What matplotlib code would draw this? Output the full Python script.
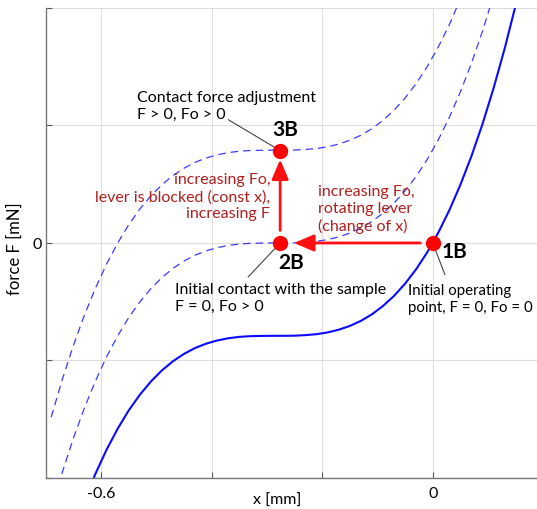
import numpy as np
import matplotlib
matplotlib.use("Agg")
from matplotlib import pyplot as plt

plt.rcParams['font.family'] = ['Lato', 'DejaVu Sans']

# curves (x in mm, F in mN)
x_mm = [-0.69, -0.67, -0.65, -0.63, -0.61, -0.59, -0.57, -0.55, -0.53, -0.51,
        -0.49, -0.47, -0.45, -0.43, -0.41, -0.39, -0.37, -0.35, -0.33, -0.31,
        -0.29, -0.27, -0.25, -0.23, -0.21, -0.19, -0.17, -0.15, -0.13, -0.11,
        -0.09, -0.07, -0.05, -0.03, -0.01, 0.01, 0.03, 0.05, 0.07, 0.09,
        0.11, 0.13, 0.15, 0.17, 0.19]
F_solid = [-3.062, -2.742, -2.453, -2.194, -1.964, -1.760, -1.582, -1.426, -1.293, -1.180,
           -1.085, -1.007, -0.944, -0.894, -0.857, -0.830, -0.811, -0.799, -0.793, -0.791,
           -0.790, -0.790, -0.789, -0.784, -0.776, -0.761, -0.738, -0.706, -0.663, -0.607,
           -0.536, -0.450, -0.346, -0.223, -0.079, 0.088, 0.279, 0.496, 0.740, 1.013,
           1.318, 1.654, 2.025, 2.432, 2.875]
F_dash_mid = [-2.272, -1.952, -1.663, -1.404, -1.174, -0.970, -0.792, -0.636, -0.503, -0.390,
              -0.295, -0.217, -0.154, -0.104, -0.067, -0.040, -0.021, -0.009, -0.003, -0.001,
              0.000, 0.000, 0.001, 0.006, 0.014, 0.029, 0.052, 0.084, 0.127, 0.183,
              0.254, 0.340, 0.444, 0.567, 0.711, 0.878, 1.069, 1.286, 1.530, 1.803,
              2.108, 2.444, 2.815, 3.222, 3.665]
F_dash_up = [-1.482, -1.162, -0.873, -0.614, -0.384, -0.180, -0.002, 0.154, 0.287, 0.400,
             0.495, 0.573, 0.636, 0.686, 0.723, 0.750, 0.769, 0.781, 0.787, 0.789,
             0.790, 0.790, 0.791, 0.796, 0.804, 0.819, 0.842, 0.874, 0.917, 0.973,
             1.044, 1.130, 1.234, 1.357, 1.501, 1.668, 1.859, 2.076, 2.320, 2.593,
             2.898, 3.234, 3.605, 4.012, 4.455]

# operating points
pt_names = ['1B', '2B', '3B']
pt_x = [0.0, -0.276, -0.276]
pt_F = [0.0, 0.0, 0.786]

x_ticks = [-0.6, -0.4, -0.2, 0.0]
x_ticklabels = ['-0.6', '', '', '0']
y_ticks = [-2, -1, 0, 1, 2]
y_ticklabels = ['', '', '0', '', '']

fig = plt.figure(figsize=(5.37, 5.10), dpi=100)
ax = fig.add_axes([0.0851, 0.0608, 0.9149, 0.9216])

ax.plot(x_mm, F_dash_up, color='#3a3aff', lw=0.9, dashes=(6, 4))
ax.plot(x_mm, F_dash_mid, color='#3a3aff', lw=0.9, dashes=(6, 4))
ax.plot(x_mm, F_solid, color='#0a0aff', lw=1.5)

ax.set_xlim(-0.7, 0.1885)
ax.set_ylim(-2, 2)
ax.set_xticks(x_ticks)
ax.set_xticklabels(x_ticklabels)
ax.set_yticks(y_ticks)
ax.set_yticklabels(y_ticklabels)
ax.grid(True, color='#dddddd', lw=0.8)
ax.set_axisbelow(True)
for s in ['top', 'right']:
    ax.spines[s].set_visible(False)
for s in ['left', 'bottom']:
    ax.spines[s].set_color('#777777')
    ax.spines[s].set_linewidth(1.0)
ax.tick_params(direction='in', length=4, color='#555555', labelsize=11.5)
ax.tick_params(axis='x', pad=6)
ax.tick_params(axis='y', pad=3)

ax.set_xlabel('x [mm]', fontsize=11.5)
ax.xaxis.set_label_coords((277 - 45.7) / 491.3, -0.031)
ax.set_ylabel('force F [mN]', fontsize=12)
ax.yaxis.set_label_coords(-0.047, 0.49)

red_txt = '#b01e1e'
gray = '#444444'

# arrows between points
arr = dict(arrowstyle='-|>,head_length=0.75,head_width=0.32', color='#ff1010', lw=2,
           mutation_scale=16, shrinkA=9, shrinkB=0)
ax.annotate('', xy=(pt_x[1] + 0.025, pt_F[1]), xytext=(pt_x[0], pt_F[0]), arrowprops=arr)
ax.annotate('', xy=(pt_x[2], pt_F[2] - 0.075), xytext=(pt_x[1], pt_F[1]), arrowprops=arr)

ax.plot(pt_x, pt_F, 'o', color='#ff0000', ms=10, zorder=5)

# point names
ax.text(pt_x[2] + 0.009, pt_F[2] + 0.18, pt_names[2], fontsize=15, fontweight='bold',
        ha='center', va='center')
ax.text(pt_x[1] + 0.020, pt_F[1] - 0.16, pt_names[1], fontsize=15, fontweight='bold',
        ha='center', va='center')
ax.text(pt_x[0] + 0.040, pt_F[0] - 0.07, pt_names[0], fontsize=15, fontweight='bold',
        ha='center', va='center')

# leader lines
lead = dict(arrowstyle='-', color=gray, lw=0.8, shrinkA=0, shrinkB=0)
ax.annotate('', xy=(pt_x[2], pt_F[2]), xytext=(-0.370, 1.05), arrowprops=dict(lead, shrinkB=5))
ax.annotate('', xy=(pt_x[1], pt_F[1]), xytext=(-0.334, -0.29), arrowprops=dict(lead, shrinkB=5))
ax.annotate('', xy=(pt_x[0], pt_F[0]), xytext=(0.022, -0.27), arrowprops=dict(lead, shrinkB=4))

ax.text(-0.534, 1.30, 'Contact force adjustment\nF > 0, Fo > 0', fontsize=11.5,
        ha='left', va='top', linespacing=1.25)
ax.text(-0.466, -0.33, 'Initial contact with the sample\nF = 0, Fo > 0', fontsize=11.5,
        ha='left', va='top', linespacing=1.25)
ax.text(-0.045, -0.34, 'Initial operating\npoint, F = 0, Fo = 0', fontsize=10.8,
        ha='left', va='top', linespacing=1.3)
ax.text(-0.294, 0.60, 'increasing Fo,\nlever is blocked (const x),\nincreasing F', fontsize=11.5,
        color=red_txt, ha='right', va='top', multialignment='right', linespacing=1.25)
ax.text(-0.207, 0.50, 'increasing Fo,\nrotating lever\n(change of x)', fontsize=11.5,
        color=red_txt, ha='left', va='top', linespacing=1.25)

fig.savefig('out.png', dpi=100)
